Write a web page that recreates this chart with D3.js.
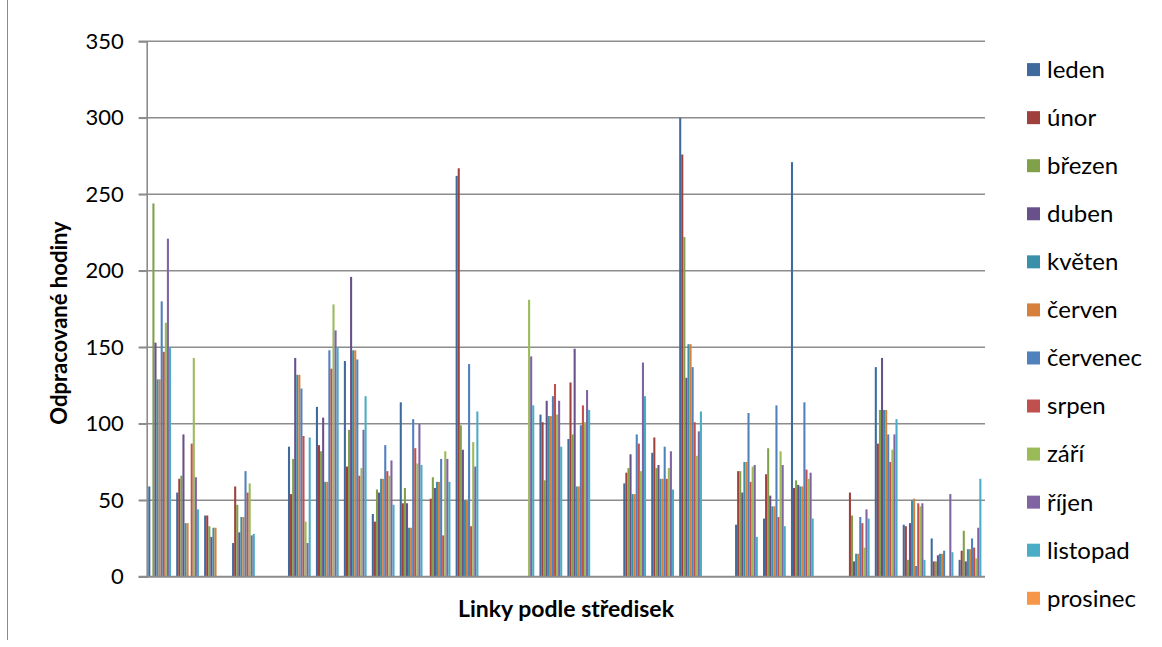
<!DOCTYPE html>
<html>
<head>
<meta charset="utf-8">
<script src="https://cdn.jsdelivr.net/npm/d3@7"></script>
<style>
  html, body { margin: 0; padding: 0; background: #ffffff; }
  svg { display: block; }
  text { font-family: Lato, "Noto Sans", sans-serif; fill: #000; }
</style>
</head>
<body>
<svg id="chart" width="1162" height="647"></svg>
<script>
// Monthly worked hours per line, grouped by cost centre (30 lines)
const lines = d3.range(1, 31).map(i => "L" + i);

const months = ["leden", "únor", "březen", "duben", "květen", "červen",
                "červenec", "srpen", "září", "říjen", "listopad", "prosinec"];

const leden    = [59, 55, 40, 22, 0, 85, 111, 141, 41, 114, 0, 262, 0, 0, 106, 90, 0, 61, 81, 300, 0, 34, 38, 271, 0, 0, 137, 34, 25, 11];
const unor     = [0, 64, 40, 59, 0, 54, 86, 72, 36, 48, 51, 267, 0, 0, 101, 127, 0, 68, 91, 276, 0, 69, 67, 58, 0, 55, 87, 33, 10, 17];
const brezen   = [244, 66, 33, 47, 0, 77, 82, 96, 57, 58, 65, 99, 0, 0, 63, 93, 0, 71, 71, 222, 0, 69, 84, 63, 0, 40, 109, 11, 10, 30];
const duben    = [153, 93, 26, 29, 0, 143, 104, 196, 55, 48, 58, 83, 0, 0, 115, 149, 0, 80, 73, 130, 0, 55, 53, 60, 0, 10, 143, 35, 14, 10];
const kveten   = [129, 35, 32, 39, 0, 132, 62, 148, 64, 32, 62, 50, 0, 0, 105, 59, 0, 54, 64, 152, 0, 75, 46, 59, 0, 15, 109, 50, 15, 18];
const cerven   = [129, 35, 32, 39, 0, 132, 62, 148, 64, 32, 62, 50, 0, 0, 105, 59, 0, 54, 64, 152, 0, 75, 46, 59, 0, 15, 109, 51, 15, 18];
const cervenec = [180, 0, 0, 69, 0, 123, 148, 142, 86, 103, 77, 139, 0, 0, 118, 99, 0, 93, 85, 137, 0, 107, 112, 114, 0, 39, 93, 7, 17, 25];
const srpen    = [147, 87, 0, 55, 0, 92, 136, 66, 69, 84, 27, 33, 0, 0, 126, 112, 0, 87, 64, 101, 0, 62, 39, 70, 0, 35, 75, 48, 0, 19];
const zari     = [166, 143, 0, 61, 0, 36, 178, 71, 66, 74, 82, 88, 0, 181, 106, 101, 0, 69, 71, 79, 0, 72, 82, 64, 0, 19, 83, 46, 0, 12];
const rijen    = [221, 65, 0, 27, 0, 22, 161, 96, 76, 100, 77, 72, 0, 144, 115, 122, 0, 140, 82, 95, 0, 73, 73, 68, 0, 44, 93, 48, 54, 32];
const listopad = [150, 44, 0, 28, 0, 91, 150, 118, 47, 73, 62, 108, 0, 112, 85, 109, 0, 118, 57, 108, 0, 26, 33, 38, 0, 38, 103, 11, 16, 64];
const prosinec = [0, 0, 0, 0, 0, 0, 0, 0, 0, 0, 0, 0, 0, 0, 0, 0, 0, 0, 0, 0, 0, 0, 0, 0, 0, 0, 0, 0, 0, 0];

const yTicks = [0, 50, 100, 150, 200, 250, 300, 350];

const colors = ["#3e6a9e", "#a0403d", "#80a04a", "#68518b", "#3a90a8", "#d6803c",
                "#4f81bd", "#c0504d", "#9bbb59", "#8064a2", "#4bacc6", "#f79646"];

const seriesValues = [leden, unor, brezen, duben, kveten, cerven,
                      cervenec, srpen, zari, rijen, listopad, prosinec];

const series = months.map((m, j) => ({ name: m, color: colors[j], values: seriesValues[j] }));

const svg = d3.select("#chart");
const plot = { left: 146.7, right: 985, top: 41.3, bottom: 576.7 };

const x0 = d3.scaleBand()
  .domain(lines)
  .range([plot.left, plot.right])
  .paddingInner(1.5 / 13.5)
  .paddingOuter(0.75 / 13.5);

const x1 = d3.scaleBand()
  .domain(months)
  .range([0, x0.bandwidth()]);

const y = d3.scaleLinear().domain([0, 350]).range([plot.bottom, plot.top]);

// horizontal gridlines
svg.append("g")
  .selectAll("line")
  .data(yTicks.filter(t => t > 0))
  .join("line")
  .attr("x1", plot.left - 8).attr("x2", plot.right)
  .attr("y1", d => y(d)).attr("y2", d => y(d))
  .attr("stroke", "#8c8c8c").attr("stroke-width", 1.6);

// bars
const groups = svg.append("g")
  .selectAll("g")
  .data(series)
  .join("g")
  .attr("fill", d => d.color);

groups.selectAll("rect")
  .data(d => d.values.map((v, i) => ({ line: lines[i], month: d.name, value: v })))
  .join("rect")
  .attr("x", d => x0(d.line) + x1(d.month))
  .attr("width", x1.bandwidth())
  .attr("y", d => y(d.value))
  .attr("height", d => y(0) - y(d.value));

// y axis
const yAxis = svg.append("g")
  .attr("transform", `translate(${plot.left},0)`)
  .call(d3.axisLeft(y).tickValues(yTicks).tickSize(8).tickPadding(15).tickFormat(d3.format("d")));
yAxis.select(".domain").attr("stroke", "#8c8c8c").attr("stroke-width", 1.6);
yAxis.selectAll(".tick line").attr("stroke", "#8c8c8c").attr("stroke-width", 1.6);
yAxis.selectAll(".tick text")
  .style("font-family", "Lato, 'Noto Sans', sans-serif")
  .style("font-size", "22px")
  .attr("fill", "#000");

// x axis baseline
svg.append("line")
  .attr("x1", plot.left - 8).attr("x2", plot.right)
  .attr("y1", y(0)).attr("y2", y(0))
  .attr("stroke", "#8c8c8c").attr("stroke-width", 2);

// axis titles
svg.append("text")
  .attr("transform", `translate(67,${(plot.top + plot.bottom) / 2 + 14}) rotate(-90)`)
  .attr("text-anchor", "middle")
  .style("font-weight", "bold")
  .style("font-size", "22px")
  .text("Odpracované hodiny");

svg.append("text")
  .attr("x", 566).attr("y", 617)
  .attr("text-anchor", "middle")
  .style("font-weight", "bold")
  .style("font-size", "23px")
  .text("Linky podle středisek");

// legend
const legend = svg.append("g")
  .selectAll("g")
  .data(series)
  .join("g")
  .attr("transform", (d, i) => `translate(1027,${69.6 + i * 48.06})`);

legend.append("rect")
  .attr("x", 0).attr("y", -6.5)
  .attr("width", 13).attr("height", 13)
  .attr("fill", d => d.color);

legend.append("text")
  .attr("x", 20).attr("y", 0)
  .attr("dy", "0.35em")
  .style("font-size", "24px")
  .text(d => d.name);

// chart area frame edge
svg.append("line")
  .attr("x1", 7.5).attr("x2", 7.5).attr("y1", 0).attr("y2", 640)
  .attr("stroke", "#8c8c8c").attr("stroke-width", 1);
</script>
</body>
</html>
